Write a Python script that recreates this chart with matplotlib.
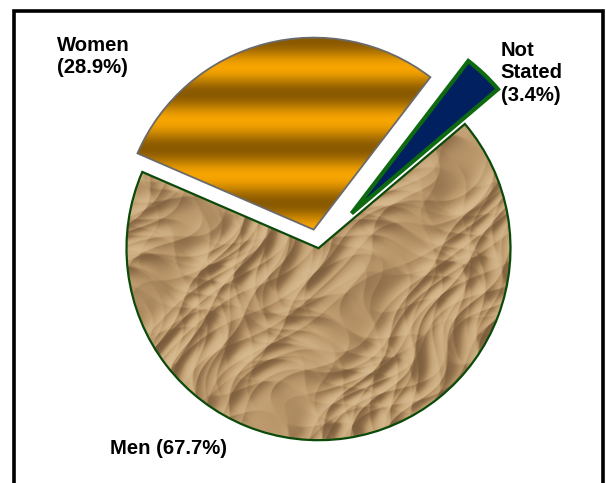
import numpy as np
import matplotlib
matplotlib.use("Agg")
import matplotlib.pyplot as plt
from matplotlib.patches import Wedge, Rectangle

# ---- data ----
categories = ["Men", "Not Stated", "Women"]
values = [67.7, 3.4, 28.9]
display_names = ["Men", "Not\nStated", "Women"]
name_sep = [" ", "\n", "\n"]
explode = [0.0, 0.25, 0.1]

W, H = 606, 483
fig = plt.figure(figsize=(W / 100, H / 100), dpi=100)
ax = fig.add_axes([0, 0, 1, 1])
ax.set_axis_off()

cx, cy, R = 318.5, H - 248.2, 192.0
wedges, _ = ax.pie(values, explode=[e * R for e in explode], startangle=156.6,
                   counterclock=True, center=(cx, cy), radius=R,
                   colors=["#bb9868", "#002060", "#e09400"],
                   wedgeprops=dict(linewidth=0))

# ---- textures ----
yy, xx = np.mgrid[0:H, 0:W].astype(float)

# women: horizontal gold stripes
stop_y = np.array([0, 40, 67, 93, 120, 148, 175, 203, 229, 260, 483])
stop_t = np.array([1, 0, 1, 0, 1, 0, 1, 0, 1, 0, 0])
t = np.interp(yy[:, 0], stop_y, stop_t)
t = 0.5 - 0.5 * np.cos(np.pi * t)
dark = np.array([0x8a, 0x5a, 0x00]) / 255
light = np.array([0xf6, 0xa4, 0x00]) / 255
stripe = (dark[None, :] * (1 - t[:, None]) + light[None, :] * t[:, None])
stripe_img = np.repeat(stripe[:, None, :], W, axis=1)
im_w = ax.imshow(stripe_img, extent=(0, W, 0, H), origin="upper", zorder=2,
                 interpolation="bilinear")
im_w.set_clip_path(wedges[2])

# men: crumpled paper look (shaded crease height field)
wx = 14 * np.sin(xx * 0.027 + yy * 0.019 + 0.7) + 8 * np.sin(yy * 0.061 - xx * 0.013)
wy = 12 * np.sin(xx * 0.021 - yy * 0.033 + 1.9) + 7 * np.cos(xx * 0.057 + yy * 0.041)
h = np.zeros_like(xx)
crease = [(0.55, 0.083, 0.0, 1.0), (2.25, 0.061, 1.3, 0.9), (1.35, 0.047, 2.1, 0.8),
          (2.85, 0.109, 0.4, 0.6), (0.12, 0.071, 3.0, 0.7), (1.85, 0.131, 0.9, 0.4),
          (0.95, 0.157, 2.6, 0.35), (2.55, 0.037, 1.7, 0.9)]
for ang, fr, ph, amp in crease:
    s = (xx + wx) * np.cos(ang) + (yy + wy) * np.sin(ang)
    h += amp * np.abs(np.sin(s * fr + ph))
gy, gx = np.gradient(h)
shade = -(gx * 0.7 + gy * 0.7)
shade = shade / (np.abs(shade).max() + 1e-9)
shade = np.tanh(shade * 2.6) * 0.85
c_dark = np.array([0x6e, 0x50, 0x32]) / 255
c_mid = np.array([0xb8, 0x95, 0x69]) / 255
c_light = np.array([0xde, 0xc2, 0x98]) / 255
s3 = shade[..., None]
paper = np.where(s3 < 0, c_mid + (c_mid - c_dark) * s3, c_mid + (c_light - c_mid) * s3)
paper = np.clip(paper, 0, 1)
im_m = ax.imshow(paper, extent=(0, W, 0, H), origin="upper", zorder=2,
                 interpolation="bilinear")
im_m.set_clip_path(wedges[0])

# edges on top
edge_style = [("#0b4a0b", 1.6), ("#0d6a10", 3.0), ("#6a6a6a", 1.3)]
for w, (ec, lw) in zip(wedges, edge_style):
    ax.add_patch(Wedge(w.center, w.r, w.theta1, w.theta2, fill=False,
                       edgecolor=ec, linewidth=lw, zorder=3, joinstyle="miter"))

ax.set_xlim(0, W)
ax.set_ylim(0, H)
ax.set_aspect("equal")

# ---- labels ----
label_pos = {"Men": (110.5, H - 438.5), "Not Stated": (500.5, H - 41), "Women": (56.5, H - 36)}
font = dict(family=["Liberation Sans", "DejaVu Sans"], fontweight="bold", fontsize=14.6,
            color="black", ha="left", va="top", linespacing=1.22, zorder=5)
for cat, name, sep, v in zip(categories, display_names, name_sep, values):
    x, y = label_pos[cat]
    ax.text(x, y, f"{name}{sep}({v}%)", **font)

# ---- frame ----
fig.patches.append(Rectangle((13.5 / W, -0.05), (602.5 - 13.5) / W, 1.05 - 10.5 / H,
                             transform=fig.transFigure, fill=False,
                             edgecolor="black", linewidth=2.6, zorder=10))

fig.savefig("out.png", dpi=100)
